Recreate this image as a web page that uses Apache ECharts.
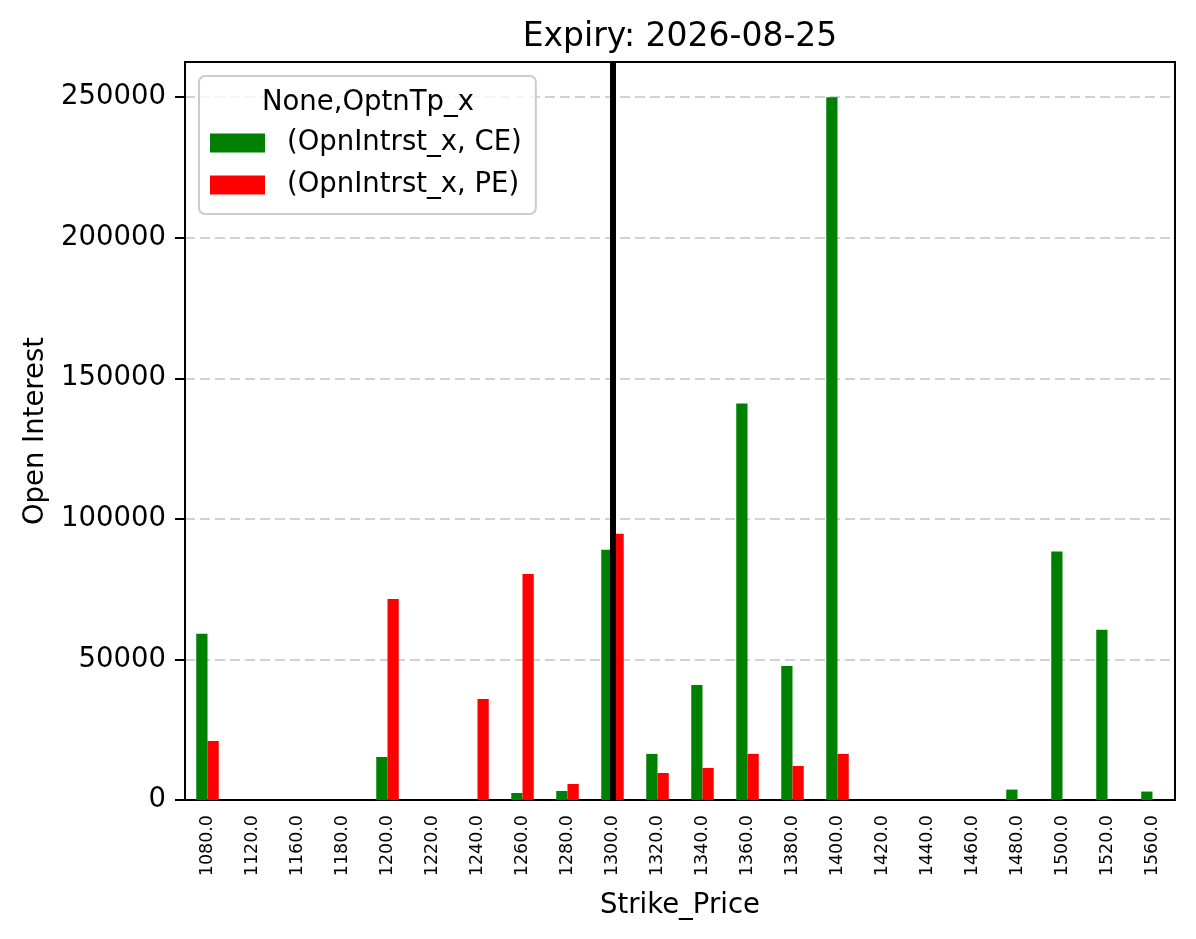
<!DOCTYPE html>
<html>
<head>
<meta charset="utf-8">
<script src="https://cdn.jsdelivr.net/npm/echarts@6/dist/echarts.min.js"></script>
<style>
  html, body { margin: 0; padding: 0; background: #fff; }
  #chart { width: 1196px; height: 939px; }
</style>
</head>
<body>
<div id="chart"></div>
<script>
// strike prices (x categories)
const strikes = ['1080.0', '1120.0', '1160.0', '1180.0', '1200.0', '1220.0', '1240.0', '1260.0',
  '1280.0', '1300.0', '1320.0', '1340.0', '1360.0', '1380.0', '1400.0', '1420.0', '1440.0',
  '1460.0', '1480.0', '1500.0', '1520.0', '1560.0']
// open interest, calls
const ceOI = [59100, 0, 0, 0, 15300, 0, 0, 2500, 3200, 89000, 16400, 40900, 141000, 47700,
  250000, 0, 0, 0, 3700, 88400, 60600, 3000]
// open interest, puts
const peOI = [21000, 0, 0, 0, 71500, 0, 35900, 80400, 5700, 94700, 9600, 11400, 16400, 12100,
  16400, 0, 0, 0, 0, 0, 0, 0]
const atmStrike = '1300.0'
const yMax = 262500

const font = 'DejaVu Sans'
const chart = echarts.init(document.getElementById('chart'))

const option = {
  animation: false,
  textStyle: { fontFamily: font, color: '#000' },
  title: [
    {
      text: 'Expiry: 2026-08-25',
      left: 680,
      top: 21,
      textAlign: 'center',
      padding: 0,
      textStyle: { fontFamily: font, fontSize: 33, fontWeight: 'normal', color: '#000' }
    },
    {
      text: 'None,OptnTp_x',
      left: 368,
      top: 89,
      textAlign: 'center',
      padding: 0,
      z: 10,
      textStyle: { fontFamily: font, fontSize: 27.5, fontWeight: 'normal', color: '#000' }
    }
  ],
  legend: {
    orient: 'vertical',
    left: 199,
    top: 76,
    padding: [53, 14, 15, 11],
    itemWidth: 55,
    itemHeight: 19,
    itemGap: 14,
    icon: 'rect',
    borderColor: '#cccccc',
    borderWidth: 2,
    borderRadius: 6,
    backgroundColor: 'rgba(255,255,255,0.8)',
    textStyle: { fontFamily: font, fontSize: 27.5, color: '#000', padding: [0, 0, 0, 17] },
    data: ['(OpnIntrst_x, CE)', '(OpnIntrst_x, PE)']
  },
  grid: {
    left: 185,
    right: 21,
    top: 62,
    bottom: 139,
    show: true,
    borderColor: '#000',
    borderWidth: 2,
    containLabel: false
  },
  xAxis: {
    type: 'category',
    data: strikes,
    name: 'Strike_Price',
    nameLocation: 'middle',
    nameGap: 92,
    nameTextStyle: { fontFamily: font, fontSize: 27.5, color: '#000' },
    axisLine: { lineStyle: { color: '#000', width: 2 } },
    axisTick: { alignWithLabel: true, length: 10, lineStyle: { color: '#000', width: 2 } },
    axisLabel: { rotate: 90, fontSize: 17.5, margin: 15, color: '#000', fontFamily: font, interval: 0 },
    splitLine: { show: false }
  },
  yAxis: {
    type: 'value',
    min: 0,
    max: yMax,
    interval: 50000,
    name: 'Open Interest',
    nameLocation: 'middle',
    nameGap: 131,
    nameTextStyle: { fontFamily: font, fontSize: 27.5, color: '#000' },
    axisLine: { show: true, lineStyle: { color: '#000', width: 2 } },
    axisTick: { show: true, length: 10, lineStyle: { color: '#000', width: 2 } },
    axisLabel: {
      fontSize: 27.5, margin: 19, color: '#000', fontFamily: font, showMaxLabel: false,
      formatter: v => String(v)
    },
    splitLine: {
      show: true, showMinLine: false, showMaxLine: false,
      lineStyle: { color: '#c4c4c4', width: 1.5, type: [10, 5] }
    }
  },
  series: [
    {
      name: '(OpnIntrst_x, CE)',
      type: 'bar',
      data: ceOI,
      barWidth: '25%',
      barGap: '0%',
      itemStyle: { color: '#008000' }
    },
    {
      name: '(OpnIntrst_x, PE)',
      type: 'bar',
      data: peOI,
      barWidth: '25%',
      barGap: '0%',
      itemStyle: { color: '#ff0000' }
    },
    {
      // vertical marker at the ATM strike
      name: 'atm',
      type: 'line',
      data: [],
      markLine: {
        silent: true,
        symbol: 'none',
        label: { show: false },
        lineStyle: { color: '#000', width: 6, type: 'solid' },
        data: [{ xAxis: atmStrike }]
      }
    }
  ]
}

chart.setOption(option)
</script>
</body>
</html>
